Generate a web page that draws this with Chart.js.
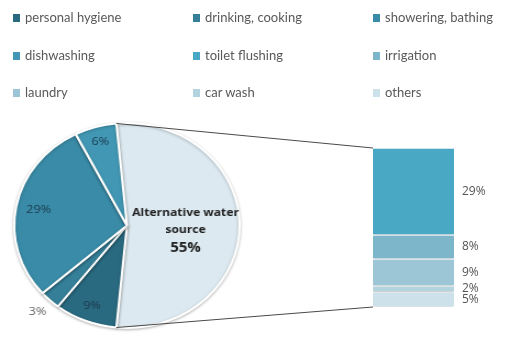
<!DOCTYPE html>
<html>
<head>
<meta charset="utf-8">
<script src="https://cdn.jsdelivr.net/npm/chart.js@4/dist/chart.umd.min.js"></script>
<style>
  html, body { margin: 0; padding: 0; background: #fff; }
  #wrap { position: relative; width: 511px; height: 337px; overflow: hidden; font-family: Lato, "Open Sans", sans-serif; }
  canvas { position: absolute; left: 0; top: 0; }
  .lg { position: absolute; font-size: 13px; color: #595959; white-space: nowrap; line-height: 16px; }
  .lg i { display: inline-block; width: 7px; height: 8px; margin-right: 5px; vertical-align: 0px; }
</style>
</head>
<body>
<div id="wrap">
  <canvas id="pie" width="465" height="337" style="width:511px;height:337px"></canvas>
  <canvas id="bar" width="511" height="337"></canvas>
</div>
<script>
// ---- data ----
const legendLabels = ["personal hygiene", "drinking, cooking", "showering, bathing",
                      "dishwashing", "toilet flushing", "irrigation",
                      "laundry", "car wash", "others"];
const legendColors = ["#2a6a80", "#357f98", "#3a8ba7",
                      "#4298b4", "#49a8c3", "#7db6ca",
                      "#9cc6d5", "#b3d3df", "#cce1e9"];
// pie (first plot)
const pieCategories = ["personal hygiene", "drinking, cooking", "showering, bathing", "dishwashing"];
const pieValues = [9, 3, 29, 6];
const pieLabels = ["9%", "3%", "29%", "6%"];
// bar (second plot)
const barCategories = ["toilet flushing", "irrigation", "laundry", "car wash", "others"];
const barValues = [29, 8, 9, 2, 5];
const barLabels = ["29%", "8%", "9%", "2%", "5%"];
const otherName = ["Alternative water", "source"];
const otherLabel = "55%";
const otherColor = "#dce9f0";

// ---- legend (HTML text) ----
const wrap = document.getElementById('wrap');
const colX = [13, 193, 373];
const rowY = [9, 47, 84];
legendLabels.forEach((t, i) => {
  const d = document.createElement('div');
  d.className = 'lg';
  d.style.left = colX[i % 3] + 'px';
  d.style.top = rowY[Math.floor(i / 3)] + 'px';
  d.innerHTML = '<i style="background:' + legendColors[i] + '"></i>' + t;
  wrap.appendChild(d);
});

// ---- pie ----
const otherValue = barValues.reduce((a, b) => a + b, 0);
const pieData = [otherValue].concat(pieValues);
const pieColors = [otherColor].concat(pieCategories.map(c => legendColors[legendLabels.indexOf(c)]));
const otherAngle = otherValue / pieData.reduce((a, b) => a + b, 0) * 360;

const shadowPlugin = {
  id: 'shadow',
  beforeDatasetsDraw(chart) {
    const ctx = chart.ctx;
    ctx.save();
    ctx.shadowColor = 'rgba(0,0,0,0.25)';
    ctx.shadowBlur = 3;
    ctx.shadowOffsetX = 0;
    ctx.shadowOffsetY = 1;
  },
  afterDatasetsDraw(chart) { chart.ctx.restore(); }
};

const pieLabelPlugin = {
  id: 'pieLabels',
  afterDraw(chart) {
    const ctx = chart.ctx;
    const arcs = chart.getDatasetMeta(0).data;
    ctx.save();
    ctx.textAlign = 'center';
    ctx.textBaseline = 'middle';
    arcs.forEach((a, i) => {
      const mid = (a.startAngle + a.endAngle) / 2;
      const r = a.outerRadius;
      if (i === 0) {
        const x = a.x + r * 0.52 * Math.cos(mid);
        const y = a.y + r * 0.52 * Math.sin(mid);
        ctx.fillStyle = '#222';
        ctx.font = 'bold 11px "Open Sans", Lato, sans-serif';
        ctx.fillText(otherName[0], x, y - 13);
        ctx.fillText(otherName[1], x, y + 4);
        ctx.font = 'bold 13.5px "Open Sans", Lato, sans-serif';
        ctx.fillText(otherLabel, x, y + 23);
        return;
      }
      const v = pieValues[i - 1];
      ctx.font = '11.5px "Open Sans", Lato, sans-serif';
      const w = ctx.measureText(pieLabels[i - 1]).width / 2;
      const c = Math.cos(mid), s = Math.sin(mid);
      if (v < 5) {
        ctx.fillStyle = '#666';
        ctx.fillText(pieLabels[i - 1], a.x + r * 1.16 * c, a.y + r * 1.16 * s);
      } else {
        // keep the label box inside the slice, near its outer edge
        const ext = Math.abs(c) * w + Math.abs(s) * 6;
        const d = r - 6 - ext * 1.2;
        ctx.fillStyle = '#1c3a4e';
        ctx.fillText(pieLabels[i - 1], a.x + d * c, a.y + d * s);
      }
    });
    ctx.restore();
  }
};

const pieCanvas = document.getElementById('pie');
const pieChart = new Chart(pieCanvas, {
  type: 'pie',
  data: {
    labels: ["Alternative water source"].concat(pieCategories),
    datasets: [{ data: pieData, backgroundColor: pieColors, borderColor: '#fff', borderWidth: 2 }]
  },
  options: {
    responsive: false,
    animation: false,
    rotation: 90 - otherAngle / 2,
    layout: { padding: { left: 12, right: 246, top: 122, bottom: 8 } },
    plugins: { legend: { display: false }, tooltip: { enabled: false } }
  },
  plugins: [shadowPlugin, pieLabelPlugin]
});

// ---- bar (second plot) ----
const barDatasets = barCategories.map((c, i) => ({
  label: c,
  data: [barValues[i]],
  backgroundColor: legendColors[legendLabels.indexOf(c)],
  borderColor: '#fff',
  borderWidth: { top: 1, bottom: 1, left: 0, right: 0 },
  borderSkipped: false,
  barPercentage: 1,
  categoryPercentage: 1
}));

const barDecor = {
  id: 'barDecor',
  afterDraw(chart) {
    const ctx = chart.ctx;
    const n = chart.data.datasets.length;
    let top = Infinity, bottom = -Infinity, left = 0, right = 0;
    ctx.save();
    ctx.font = '12px "Open Sans", Lato, sans-serif';
    ctx.fillStyle = '#555';
    ctx.textAlign = 'left';
    ctx.textBaseline = 'middle';
    for (let i = 0; i < n; i++) {
      const el = chart.getDatasetMeta(i).data[0];
      const t = Math.min(el.y, el.base), b = Math.max(el.y, el.base);
      top = Math.min(top, t); bottom = Math.max(bottom, b);
      left = el.x - el.width / 2; right = el.x + el.width / 2;
      ctx.fillText(barLabels[i], right + 8, (t + b) / 2);
    }
    // connector lines from the "other" slice of the pie (pie canvas is stretched horizontally)
    const sx = pieCanvas.getBoundingClientRect().width / pieCanvas.width;
    const arc = pieChart.getDatasetMeta(0).data[0];
    const r = arc.outerRadius;
    ctx.strokeStyle = '#4a4a4a';
    ctx.lineWidth = 1;
    ctx.beginPath();
    ctx.moveTo((arc.x + r * Math.cos(arc.startAngle)) * sx, arc.y + r * Math.sin(arc.startAngle));
    ctx.lineTo(left, top);
    ctx.moveTo((arc.x + r * Math.cos(arc.endAngle)) * sx, arc.y + r * Math.sin(arc.endAngle));
    ctx.lineTo(left, bottom);
    ctx.stroke();
    ctx.restore();
  }
};

new Chart(document.getElementById('bar'), {
  type: 'bar',
  data: { labels: [''], datasets: barDatasets },
  options: {
    responsive: false,
    animation: false,
    layout: { padding: { left: 373, right: 57, top: 148, bottom: 30 } },
    scales: {
      x: { display: false, stacked: true },
      y: { display: false, stacked: true, reverse: true, min: 0, max: otherValue }
    },
    plugins: { legend: { display: false }, tooltip: { enabled: false } }
  },
  plugins: [shadowPlugin, barDecor]
});
</script>
</body>
</html>
